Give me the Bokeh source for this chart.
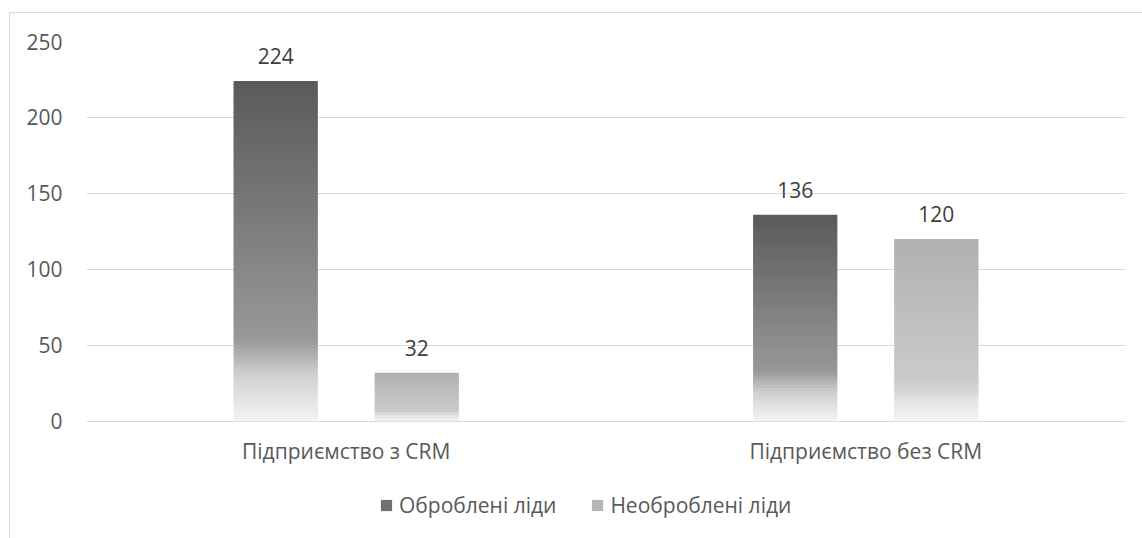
from bokeh.plotting import figure
from bokeh.models import (ColumnDataSource, FactorRange, Legend, LegendItem,
                          FixedTicker, LabelSet)
from bokeh.core.properties import value
from bokeh.transform import dodge
from bokeh.embed import file_html
from bokeh.resources import INLINE

# Data
categories = ["Підприємство з CRM", "Підприємство без CRM"]
series_names = ["Оброблені ліди", "Необроблені ліди"]
processed = [224, 136]
unprocessed = [32, 120]
y_ticks = [0, 50, 100, 150, 200, 250]

FONT = "Open Sans"
FSIZE = "21px"
SLICE_UNITS = 2.0  # approximate height of one shading slice, in data units

# vertical gradient stops (position from bar top, grey level)
dark_stops = [(0.0, 0x5a), (0.76, 0x98), (0.86, 0xcf), (1.0, 0xf4)]
light_stops = [(0.0, 0xb0), (0.78, 0xcb), (0.88, 0xe2), (1.0, 0xf5)]


def grey_at(stops, t):
    for (t0, g0), (t1, g1) in zip(stops[:-1], stops[1:]):
        if t <= t1:
            f = (t - t0) / (t1 - t0) if t1 > t0 else 0.0
            g = round(g0 + (g1 - g0) * f)
            return "#%02x%02x%02x" % (g, g, g)
    g = stops[-1][1]
    return "#%02x%02x%02x" % (g, g, g)


def gradient_source(values, stops):
    """Split each bar into thin horizontal slices shaded along the gradient."""
    cats, tops, bottoms, colors = [], [], [], []
    for cat, v in zip(categories, values):
        n = max(8, round(v / SLICE_UNITS))
        h = v / n
        for k in range(n):
            t0 = k / n
            t1 = (k + 1) / n
            cats.append(cat)
            tops.append(v * (1 - t0))
            # overlap into the next slice so no seams show
            bottoms.append(max(0.0, v * (1 - t1) - 0.5 * h))
            colors.append(grey_at(stops, (t0 + t1) / 2))
    return ColumnDataSource(dict(cat=cats, top=tops, bottom=bottoms, color=colors))


p = figure(
    x_range=FactorRange(*categories, range_padding=0),
    y_range=(-77.8, 250),
    width=1133, height=526,
    output_backend="svg", toolbar_location=None,
    min_border_left=76, min_border_right=18, min_border_top=28, min_border_bottom=0,
)
p.styles = {"margin-left": "9px", "margin-top": "12px",
            "border-left": "1px solid #d9d9d9", "border-top": "1px solid #d9d9d9"}

offset = 0.1358
bar_w = 0.162

dark_src = gradient_source(processed, dark_stops)
light_src = gradient_source(unprocessed, light_stops)
r_dark = p.vbar(x=dodge("cat", -offset, range=p.x_range), top="top", bottom="bottom",
                width=bar_w, source=dark_src, fill_color="color", line_color=None)
r_light = p.vbar(x=dodge("cat", offset, range=p.x_range), top="top", bottom="bottom",
                 width=bar_w, source=light_src, fill_color="color", line_color=None)

# value labels above bars
for sign, vals in ((-1, processed), (1, unprocessed)):
    src = ColumnDataSource(dict(cat=categories, val=vals, txt=[str(v) for v in vals]))
    p.add_layout(LabelSet(x=dodge("cat", sign * offset, range=p.x_range), y="val", text="txt",
                          source=src, text_align="center", text_baseline="bottom",
                          y_offset=17, text_font=value(FONT), text_font_size=FSIZE,
                          text_color="#404040"))

# category labels under the zero line
cat_src = ColumnDataSource(dict(cat=categories, y=[0, 0]))
p.add_layout(LabelSet(x="cat", y="y", text="cat", source=cat_src,
                      text_align="center", text_baseline="middle", y_offset=-30,
                      text_font=value(FONT), text_font_size=FSIZE, text_color="#595959"))

# axes and grid
p.xaxis.visible = False
p.yaxis.ticker = FixedTicker(ticks=y_ticks)
p.yaxis.axis_line_color = None
p.yaxis.major_tick_line_color = None
p.yaxis.minor_tick_line_color = None
p.yaxis.major_label_text_font = FONT
p.yaxis.major_label_text_font_size = FSIZE
p.yaxis.major_label_text_color = "#595959"
p.yaxis.major_label_standoff = 18

p.xgrid.grid_line_color = None
p.ygrid.grid_line_color = "#d9d9d9"
p.ygrid.grid_line_width = 1
p.outline_line_color = None

# legend under the category labels; swatch colour taken from an upper slice
dark_idx = len(dark_src.data["cat"]) // 2 // 3
light_idx = len(light_src.data["cat"]) // 3
legend = Legend(
    items=[LegendItem(label=series_names[0], renderers=[r_dark], index=dark_idx),
           LegendItem(label=series_names[1], renderers=[r_light], index=light_idx)],
    orientation="horizontal", location=(293, 20),
    label_text_font=FONT, label_text_font_size=FSIZE, label_text_color="#595959",
    glyph_width=14, glyph_height=14, label_height=14, label_standoff=6, spacing=34,
    border_line_color=None, background_fill_alpha=0, margin=0, padding=0,
)
p.add_layout(legend, "center")

open("out.html", "w").write(file_html(p, INLINE))
